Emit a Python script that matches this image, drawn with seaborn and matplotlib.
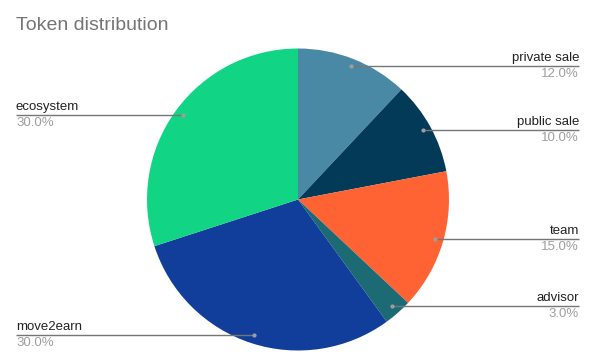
import matplotlib
matplotlib.use("Agg")
import matplotlib.pyplot as plt
import seaborn as sns
import numpy as np

labels = ["private sale", "public sale", "team", "advisor", "move2earn", "ecosystem"]
values = [12.0, 10.0, 15.0, 3.0, 30.0, 30.0]
colors = ["#4a89a5", "#023a57", "#ff6334", "#1c6a73", "#123e9b", "#11d585"]
title = "Token distribution"

sns.set_theme(style="white")
plt.rcParams['font.family'] = ['Liberation Sans', 'DejaVu Sans']

W, H = 592, 359
fig = plt.figure(figsize=(W / 100, H / 100), dpi=100)
ax = fig.add_axes([0, 0, 1, 1])

cx, cy, R = 298, H - 199.5, 151
ax.pie(values, colors=colors, startangle=90, counterclock=False,
       center=(cx, cy), radius=R, wedgeprops=dict(linewidth=0))
ax.set_xlim(0, W)
ax.set_ylim(0, H)
ax.set_aspect('equal')
ax.axis('off')

# label line y positions (pixel, from top) and sides
line_y = {"private sale": 66, "public sale": 130, "team": 239,
          "advisor": 306, "move2earn": 335, "ecosystem": 115}
total = sum(values)
cum = 0
for lab, v in zip(labels, values):
    mid = (cum + v / 2) / total * 2 * np.pi
    cum += v
    px = cx + 0.945 * R * np.sin(mid)
    py = cy + 0.945 * R * np.cos(mid)
    ly = H - line_y[lab]
    right = np.sin(mid) > 0
    if right:
        x_end = 579
        ax.plot([px, x_end], [ly, ly], color="#757575", lw=1, solid_capstyle='butt')
        ax.text(x_end, ly + 2, lab, ha='right', va='bottom', fontsize=9.5, color="#222222")
        ax.text(x_end, ly - 2, f"{v:.1f}%", ha='right', va='top', fontsize=9.5, color="#9e9e9e")
    else:
        x_end = 16
        ax.plot([x_end, px], [ly, ly], color="#757575", lw=1, solid_capstyle='butt')
        ax.text(x_end, ly + 2, lab, ha='left', va='bottom', fontsize=9.5, color="#222222")
        ax.text(x_end, ly - 2, f"{v:.1f}%", ha='left', va='top', fontsize=9.5, color="#9e9e9e")
    ax.plot([px], [py if False else ly], 'o', color="#9e9e9e", markersize=3, markeredgewidth=0)

ax.text(16, H - 25, title, ha='left', va='center', fontsize=14, color="#757575")

fig.savefig("out.png", dpi=100)
